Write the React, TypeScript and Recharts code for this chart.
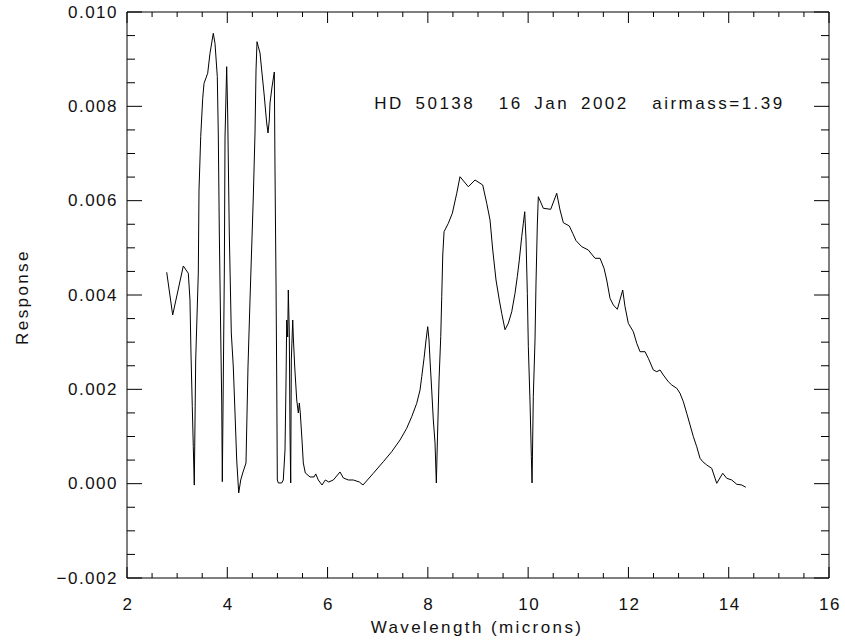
import { LineChart, Line, XAxis, YAxis, ReferenceDot } from 'recharts';

// wavelength in microns
const wavelength = [
  2.792, 2.911, 3.123, 3.223, 3.256, 3.276, 3.302, 3.322, 3.342, 3.37,
  3.422, 3.436, 3.47, 3.51, 3.536, 3.609, 3.655, 3.721, 3.755, 3.801,
  3.821, 3.841, 3.869, 3.889, 3.901, 3.921, 3.941, 3.955, 3.988, 4.008,
  4.04, 4.08, 4.12, 4.154, 4.188, 4.228, 4.268, 4.308, 4.373, 4.413,
  4.453, 4.487, 4.519, 4.553, 4.573, 4.593, 4.619, 4.653, 4.686, 4.732,
  4.786, 4.812, 4.838, 4.852, 4.892, 4.938, 4.952, 4.972, 4.986, 4.998,
  5.018, 5.085, 5.117, 5.151, 5.171, 5.185, 5.205, 5.217, 5.237, 5.251,
  5.265, 5.277, 5.305, 5.317, 5.345, 5.385, 5.417, 5.437, 5.456, 5.49,
  5.516, 5.556, 5.65, 5.73, 5.764, 5.815, 5.889, 5.955, 6.023, 6.115,
  6.248, 6.314, 6.414, 6.513, 6.633, 6.707, 6.912, 7.112, 7.279, 7.445,
  7.578, 7.678, 7.778, 7.844, 7.878, 7.924, 7.964, 7.997, 8.023, 8.043,
  8.077, 8.109, 8.143, 8.169, 8.193, 8.223, 8.257, 8.277, 8.297, 8.323,
  8.408, 8.488, 8.576, 8.641, 8.807, 8.941, 9.094, 9.174, 9.24, 9.294,
  9.359, 9.425, 9.473, 9.539, 9.605, 9.673, 9.738, 9.784, 9.824, 9.872,
  9.904, 9.932, 9.958, 9.984, 10.004, 10.038, 10.064, 10.078, 10.103, 10.137,
  10.157, 10.183, 10.203, 10.303, 10.45, 10.57, 10.636, 10.702, 10.821, 10.889,
  10.955, 11.069, 11.2, 11.334, 11.434, 11.514, 11.567, 11.633, 11.699, 11.779,
  11.886, 11.932, 11.998, 12.098, 12.166, 12.232, 12.331, 12.397, 12.497, 12.565,
  12.63, 12.696, 12.796, 12.864, 12.964, 13.029, 13.095, 13.163, 13.229, 13.295,
  13.362, 13.428, 13.482, 13.562, 13.661, 13.761, 13.881, 13.961, 14.06, 14.16,
  14.26, 14.34,
];

// response in units of 1e-3
const responseE3 = [
  4.482, 3.576, 4.615, 4.46, 3.894, 2.771, 1.632, 0.784, -0.03, 2.622,
  4.467, 6.226, 7.356, 8.17, 8.488, 8.7, 9.124, 9.548, 9.336, 8.628,
  7.392, 5.315, 3.195, 1.711, 0.042, 2.262, 4.467, 7.35, 8.84, 7.859,
  5.315, 3.195, 2.474, 1.499, 0.502, -0.197, 0.078, 0.227, 0.439, 2.474,
  3.894, 5.018, 6.078, 7.435, 8.771, 9.37, 9.264, 9.131, 8.771, 8.283,
  7.647, 7.435, 7.711, 8.071, 8.41, 8.728, 6.587, 4.255, 2.198, 0.078,
  0.015, 0.015, 0.078, 0.714, 2.135, 3.47, 3.11, 4.106, 3.195, 1.075,
  0.015, 2.622, 3.47, 3.11, 2.474, 1.774, 1.499, 1.711, 1.499, 0.926,
  0.439, 0.227, 0.142, 0.142, 0.206, 0.078, -0.028, 0.078, 0.036, 0.078,
  0.248, 0.121, 0.078, 0.078, 0.036, -0.028, 0.22, 0.466, 0.678, 0.926,
  1.174, 1.42, 1.704, 1.986, 2.268, 2.658, 3.046, 3.328, 3.046, 2.622,
  1.986, 1.35, 0.863, 0.015, 1.03, 2.198, 3.116, 3.964, 4.848, 5.342,
  5.52, 5.732, 6.157, 6.508, 6.296, 6.438, 6.332, 5.944, 5.59, 4.954,
  4.318, 3.894, 3.612, 3.264, 3.401, 3.646, 4.036, 4.388, 4.743, 5.236,
  5.52, 5.766, 5.166, 4.036, 2.904, 1.711, 0.572, 0.015, 1.844, 3.046,
  4.255, 5.484, 6.084, 5.838, 5.817, 6.157, 5.802, 5.533, 5.463, 5.308,
  5.152, 5.024, 4.954, 4.778, 4.778, 4.566, 4.318, 3.93, 3.788, 3.697,
  4.106, 3.752, 3.4, 3.222, 2.976, 2.798, 2.798, 2.658, 2.41, 2.374,
  2.41, 2.304, 2.162, 2.092, 2.022, 1.916, 1.738, 1.492, 1.244, 0.996,
  0.784, 0.538, 0.466, 0.396, 0.326, 0.008, 0.22, 0.114, 0.078, -0.013,
  -0.028, -0.076,
];

const xTicks = [2, 2.5, 3, 3.5, 4, 4.5, 5, 5.5, 6, 6.5, 7, 7.5, 8, 8.5, 9, 9.5, 10, 10.5, 11, 11.5, 12, 12.5, 13, 13.5, 14, 14.5, 15, 15.5, 16];
const xMajor = [2, 4, 6, 8, 10, 12, 14, 16];
const yTicks = [
  -0.002, -0.0015, -0.001, -0.0005, 0, 0.0005, 0.001, 0.0015, 0.002, 0.0025, 0.003, 0.0035,
  0.004, 0.0045, 0.005, 0.0055, 0.006, 0.0065, 0.007, 0.0075, 0.008, 0.0085, 0.009, 0.0095, 0.01,
];
const yMajor = [-0.002, 0, 0.002, 0.004, 0.006, 0.008, 0.01];

const xTitle = 'Wavelength (microns)';
const yTitle = 'Response';
const annotation = 'HD 50138  16 Jan 2002  airmass=1.39';
const annotationAt = { x: 6.95, y: 0.00805 };

const data = wavelength.map((w, i) => ({ w, r: responseE3[i] / 1000 }));

const textStyle = {
  fontFamily: "'Liberation Sans', Arial, sans-serif",
  fontSize: 17,
  letterSpacing: 1.5,
  fill: '#111',
};
const titleStyle = { ...textStyle, letterSpacing: 2.4 };
const noteStyle = { ...textStyle, letterSpacing: 2.5, wordSpacing: 4.5, whiteSpace: 'pre' as const };

const isMajor = (list: number[], v: number) => list.some((m) => Math.abs(m - v) < 1e-9);
const fmtY = (v: number) => (Math.abs(v) < 1e-12 ? 0 : v).toFixed(3).replace('-', '\u2212');

function BottomTick({ x, y, payload }: any) {
  const major = isMajor(xMajor, payload.value);
  return (
    <g>
      <line x1={x} x2={x} y1={y} y2={y - (major ? 11 : 5)} stroke="#000" />
      {major && (
        <text x={x + 1} y={y + 26} textAnchor="middle" dominantBaseline="central" style={textStyle}>
          {payload.value}
        </text>
      )}
    </g>
  );
}

function TopTick({ x, y, payload }: any) {
  const major = isMajor(xMajor, payload.value);
  return <line x1={x} x2={x} y1={y} y2={y + (major ? 11 : 5)} stroke="#000" />;
}

function LeftTick({ x, y, payload }: any) {
  const major = isMajor(yMajor, payload.value);
  return (
    <g>
      <line x1={x} x2={x + (major ? 15 : 8)} y1={y} y2={y} stroke="#000" />
      {major && (
        <text x={x - 9} y={y} textAnchor="end" dominantBaseline="central" style={textStyle}>
          {fmtY(payload.value)}
        </text>
      )}
    </g>
  );
}

function RightTick({ x, y, payload }: any) {
  const major = isMajor(yMajor, payload.value);
  return <line x1={x} x2={x - (major ? 15 : 8)} y1={y} y2={y} stroke="#000" />;
}

export default function App() {
  return (
    <div style={{ position: 'absolute', left: 0, top: 0 }}>
      <LineChart width={845} height={642} data={data} margin={{ top: 11, right: 15, bottom: 0, left: 0 }}>
        <XAxis
          xAxisId="b"
          dataKey="w"
          type="number"
          domain={[2, 16]}
          ticks={xTicks}
          interval={0}
          allowDataOverflow
          height={64}
          tickSize={0}
          tickMargin={0}
          tickLine={false}
          axisLine={{ stroke: '#000' }}
          tick={<BottomTick />}
          label={({ viewBox }: any) => (
            <text
              x={viewBox.x + viewBox.width / 2 - 1}
              y={viewBox.y + 49}
              textAnchor="middle"
              dominantBaseline="central"
              style={titleStyle}
            >
              {xTitle}
            </text>
          )}
        />
        <XAxis
          xAxisId="t"
          orientation="top"
          dataKey="w"
          type="number"
          domain={[2, 16]}
          ticks={xTicks}
          interval={0}
          allowDataOverflow
          height={1}
          tickSize={0}
          tickMargin={0}
          tickLine={false}
          axisLine={{ stroke: '#000' }}
          tick={<TopTick />}
        />
        <YAxis
          yAxisId="l"
          type="number"
          domain={[-0.002, 0.01]}
          ticks={yTicks}
          interval={0}
          allowDataOverflow
          width={127}
          tickSize={0}
          tickMargin={0}
          tickLine={false}
          axisLine={{ stroke: '#000' }}
          tick={<LeftTick />}
          label={({ viewBox }: any) => {
            const cx = viewBox.x + 22;
            const cy = viewBox.y + viewBox.height / 2 + 2;
            return (
              <text
                x={cx}
                y={cy}
                textAnchor="middle"
                dominantBaseline="central"
                transform={`rotate(-90, ${cx}, ${cy})`}
                style={titleStyle}
              >
                {yTitle}
              </text>
            );
          }}
        />
        <YAxis
          yAxisId="r"
          orientation="right"
          type="number"
          domain={[-0.002, 0.01]}
          ticks={yTicks}
          interval={0}
          allowDataOverflow
          width={1}
          tickSize={0}
          tickMargin={0}
          tickLine={false}
          axisLine={{ stroke: '#000' }}
          tick={<RightTick />}
        />
        {/* invisible twin so the top and right frame axes get a series */}
        <Line
          xAxisId="t"
          yAxisId="r"
          dataKey="r"
          type="linear"
          dot={false}
          stroke="none"
          activeDot={false}
          isAnimationActive={false}
        />
        <Line
          xAxisId="b"
          yAxisId="l"
          dataKey="r"
          type="linear"
          dot={false}
          stroke="#000"
          strokeWidth={1}
          isAnimationActive={false}
        />
        <ReferenceDot
          xAxisId="b"
          yAxisId="l"
          x={annotationAt.x}
          y={annotationAt.y}
          r={1}
          fill="none"
          stroke="none"
          label={({ viewBox }: any) => (
            <text x={viewBox.x} y={viewBox.y + 1} dominantBaseline="central" style={noteStyle}>
              {annotation}
            </text>
          )}
        />
      </LineChart>
    </div>
  );
}
